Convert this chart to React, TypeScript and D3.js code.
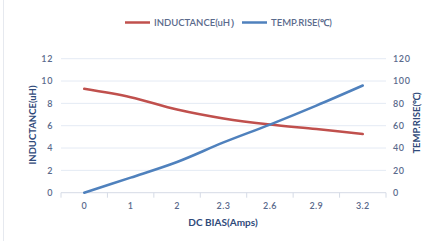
import React from "react";
import * as d3 from "d3";

const categories = ["0", "1", "2", "2.3", "2.6", "2.9", "3.2"];
const inductance = [9.3, 8.55, 7.45, 6.65, 6.1, 5.7, 5.25];
const tempRise = [0, 13.5, 27.5, 45, 61, 78, 96];
const leftTicks = [0, 2, 4, 6, 8, 10, 12];
const rightTicks = [0, 20, 40, 60, 80, 100, 120];

const W = 438, H = 241;
const L = 61, R = 386, T = 58.7, B = 192.7;
const font = "Lato, 'Open Sans', sans-serif";
const tickColor = "#5a6a8c";
const titleColor = "#2f4a7a";

export default function App() {
  const x = d3.scaleBand().domain(categories).range([L, R]).padding(0);
  const yL = d3.scaleLinear().domain([0, 12]).range([B, T]);
  const yR = d3.scaleLinear().domain([0, 120]).range([B, T]);
  const cx = (c: string) => (x(c) as number) + x.bandwidth() / 2;
  const lineL = d3.line<number>().x((_, i) => cx(categories[i])).y((d) => yL(d)).curve(d3.curveCatmullRom.alpha(0.5));
  const lineR = d3.line<number>().x((_, i) => cx(categories[i])).y((d) => yR(d)).curve(d3.curveCatmullRom.alpha(0.5));
  const boundaries = categories.map((c) => x(c) as number).concat([R]);
  return (
    <svg width={W} height={H} style={{ position: "absolute", left: 0, top: 0 }} fontFamily={font}>
      <rect x={0} y={0} width={W} height={H} fill="#fff" />
      <line x1={3.5} x2={3.5} y1={0} y2={H} stroke="#e6e9ef" />
      {leftTicks.map((t) => (
        <line key={t} x1={L} x2={R} y1={yL(t)} y2={yL(t)} stroke={t === 0 ? "#d5dbe6" : "#e4eaf4"} strokeWidth={1} />
      ))}
      {boundaries.map((b, i) => (
        <line key={i} x1={b} x2={b} y1={B} y2={B + 5} stroke="#d5dbe6" />
      ))}
      {leftTicks.map((t) => (
        <text key={t} x={53} y={yL(t)} dy="0.35em" textAnchor="end" fontSize={9} fontWeight={600} fill={tickColor} letterSpacing={0.6}>{t}</text>
      ))}
      {rightTicks.map((t) => (
        <text key={t} x={393} y={yR(t)} dy="0.35em" textAnchor="start" fontSize={9} fontWeight={600} fill={tickColor} letterSpacing={0.6}>{t}</text>
      ))}
      {categories.map((c) => (
        <text key={c} x={cx(c)} y={206} dy="0.35em" textAnchor="middle" fontSize={9} fontWeight={600} fill={tickColor} letterSpacing={0.4}>{c}</text>
      ))}
      <text x={223} y={222} dy="0.35em" textAnchor="middle" fontSize={10} fontWeight={700} fill={titleColor}>DC BIAS(Amps)</text>
      <text transform="translate(33,125) rotate(-90)" textAnchor="middle" dy="0.35em" fontSize={9.5} fontWeight={700} fill={titleColor}>INDUCTANCE(uH)</text>
      <text transform="translate(417,123) rotate(-90)" textAnchor="middle" dy="0.35em" fontSize={9.5} fontWeight={700} fill={titleColor}>TEMP.RISE(℃)</text>
      <path d={lineL(inductance) as string} fill="none" stroke="#c0504d" strokeWidth={2.5} strokeLinecap="round" />
      <path d={lineR(tempRise) as string} fill="none" stroke="#4f81bd" strokeWidth={2.5} strokeLinecap="round" />
      <line x1={125} x2={150} y1={22.5} y2={22.5} stroke="#c0504d" strokeWidth={2.5} />
      <text x={154} y={22.5} dy="0.35em" fontSize={9.5} fontWeight={600} fill={tickColor}>INDUCTANCE(uH）</text>
      <line x1={242} x2={267} y1={22.5} y2={22.5} stroke="#4f81bd" strokeWidth={2.5} />
      <text x={271} y={22.5} dy="0.35em" fontSize={9.5} fontWeight={600} fill={tickColor}>TEMP.RISE(℃)</text>
    </svg>
  );
}
